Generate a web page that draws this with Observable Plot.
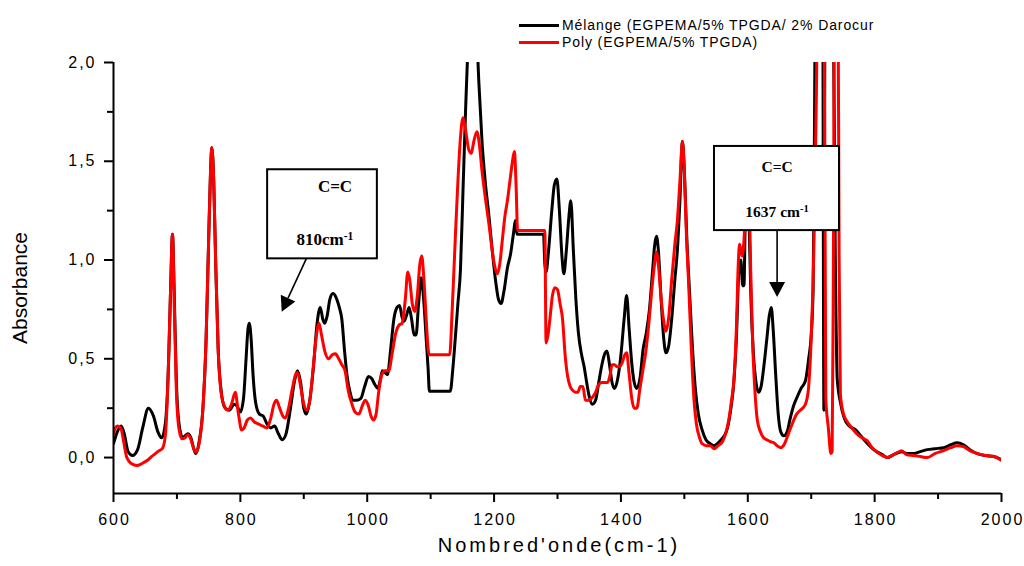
<!DOCTYPE html>
<html>
<head>
<meta charset="utf-8">
<script src="https://cdn.jsdelivr.net/npm/d3@7"></script>
<script src="https://cdn.jsdelivr.net/npm/@observablehq/plot@0.6"></script>
<style>
  html, body { margin: 0; padding: 0; background: #fff; }
  #wrap { position: relative; width: 1024px; height: 566px; font-family: "Liberation Sans", Arial, sans-serif; }
  #legend { position: absolute; left: 519px; top: 17px; font-size: 14px; letter-spacing: 0.9px; color: #000; line-height: 17px; }
  #legend .row { display: flex; align-items: center; height: 17px; }
  #legend .sw { width: 40px; height: 3px; margin-right: 3px; }
</style>
</head>
<body>
<div id="wrap"></div>
<script>
// ---------- data ----------
const seriesNames = ["Mélange (EGPEMA/5% TPGDA/ 2% Darocur", "Poly (EGPEMA/5% TPGDA)"];
const seriesColors = ["#000000", "#ff0000"];

const melangeWn = [600,606,612,617,623,630,638,646,655,663,670,676,682,687,690,693,696,699,703,709,717,722,727,730,735,741,746,750,753,755,758,761,765,770,776,783,790,795,800,805,809,812,814,817,820,824,830,836,842,848,854,860,866,872,879,885,890,895,900,904,909,915,921,926,930,933,937,941,946,951,956,960,964,968,973,978,983,990,996,1002,1007,1012,1017,1021,1024,1028,1032,1037,1042,1047,1051,1055,1058,1062,1066,1070,1074,1077,1081,1085,1089,1093,1096,1098,1131,1135,1139,1143,1147,1151,1155,1159,1166,1172,1176,1181,1186,1192,1198,1203,1207,1211,1216,1221,1226,1230,1234,1236,1278,1280,1282,1286,1291,1295,1299,1303,1307,1310,1314,1318,1321,1325,1329,1333,1338,1342,1346,1350,1355,1360,1365,1370,1375,1378,1382,1386,1390,1395,1400,1405,1409,1413,1417,1421,1425,1430,1435,1440,1445,1450,1453,1456,1459,1463,1467,1471,1475,1480,1485,1489,1493,1497,1500,1504,1508,1512,1517,1522,1528,1534,1541,1547,1552,1558,1563,1568,1573,1578,1582,1586,1589,1592,1594,1596,1599,1602,1605,1609,1613,1617,1621,1626,1630,1634,1637,1640,1644,1648,1652,1657,1662,1667,1672,1677,1684,1691,1696,1700,1703,1705,1707,1718,1720,1722,1734,1738,1741,1746,1752,1760,1770,1778,1786,1795,1803,1812,1820,1830,1843,1850,1862,1872,1883,1895,1909,1920,1930,1940,1950,1962,1975,1988,2000];
const melangeAbs = [0.07,0.13,0.16,0.12,0.03,0.01,0.04,0.15,0.25,0.21,0.13,0.10,0.18,0.5,0.85,1.13,0.8,0.4,0.18,0.1,0.12,0.1,0.04,0.02,0.08,0.25,0.6,1.1,1.45,1.57,1.4,1.0,0.55,0.33,0.25,0.24,0.27,0.26,0.23,0.3,0.5,0.65,0.68,0.6,0.42,0.28,0.22,0.21,0.17,0.15,0.16,0.12,0.09,0.12,0.25,0.38,0.44,0.38,0.25,0.22,0.28,0.45,0.68,0.76,0.70,0.68,0.72,0.80,0.83,0.81,0.76,0.7,0.55,0.42,0.33,0.29,0.29,0.30,0.36,0.41,0.40,0.37,0.35,0.40,0.44,0.43,0.42,0.55,0.70,0.76,0.77,0.71,0.69,0.72,0.76,0.70,0.62,0.62,0.78,0.91,0.80,0.6,0.45,0.336,0.336,0.45,0.61,0.78,0.95,1.35,1.75,2.1,2.4,2.2,1.9,1.6,1.4,1.22,1.02,0.88,0.8,0.78,0.85,0.96,1.03,1.12,1.2,1.13,1.13,0.98,0.94,1.05,1.25,1.38,1.41,1.25,1.02,0.93,1.05,1.22,1.30,1.05,0.80,0.63,0.52,0.46,0.38,0.31,0.27,0.29,0.38,0.47,0.53,0.54,0.47,0.38,0.35,0.40,0.52,0.70,0.82,0.65,0.48,0.38,0.35,0.40,0.55,0.63,0.75,0.95,1.07,1.12,1.05,0.82,0.62,0.53,0.56,0.70,0.90,1.05,1.3,1.60,1.45,1.1,0.85,0.6,0.36,0.22,0.14,0.09,0.07,0.06,0.07,0.09,0.11,0.15,0.24,0.38,0.6,0.95,1.0,0.87,0.87,1.2,1.35,1.2,0.8,0.52,0.38,0.33,0.36,0.48,0.6,0.72,0.76,0.65,0.42,0.22,0.13,0.11,0.13,0.2,0.26,0.3,0.35,0.39,0.5,0.62,0.85,1.6,2.5,2.5,0.24,2.5,2.5,1.0,0.4,0.28,0.2,0.16,0.14,0.11,0.08,0.05,0.03,0.015,0.0,0.015,0.03,0.02,0.02,0.03,0.04,0.045,0.05,0.065,0.075,0.065,0.04,0.02,0.01,0.005,-0.01];

const polyWn = [600,603,606,609,612,616,621,628,637,645,653,660,666,672,677,682,686,690,693,696,699,703,708,713,717,721,726,730,735,741,746,750,753,755,758,761,765,770,775,780,786,792,797,802,806,811,816,822,828,835,842,848,853,857,862,867,871,876,882,887,890,895,900,905,910,915,920,924,928,933,939,945,950,955,960,965,970,976,981,987,992,997,1002,1006,1010,1014,1018,1023,1028,1034,1039,1045,1050,1055,1060,1064,1067,1071,1075,1079,1083,1086,1089,1093,1096,1098,1130,1134,1139,1143,1147,1151,1155,1160,1164,1168,1173,1177,1181,1186,1192,1197,1201,1205,1209,1213,1217,1221,1225,1229,1232,1235,1237,1280,1282,1285,1288,1292,1296,1300,1304,1308,1312,1316,1320,1324,1328,1332,1336,1340,1344,1349,1355,1360,1365,1370,1375,1379,1383,1386,1390,1394,1398,1402,1406,1409,1413,1417,1421,1425,1430,1435,1439,1444,1449,1453,1456,1459,1463,1467,1471,1475,1480,1485,1489,1493,1497,1500,1503,1507,1511,1515,1519,1524,1528,1535,1541,1547,1553,1560,1565,1570,1574,1578,1582,1585,1587,1589,1591,1594,1598,1602,1605,1608,1611,1615,1620,1625,1630,1636,1641,1646,1652,1658,1664,1670,1677,1683,1688,1692,1696,1700,1704,1708,1711,1720,1723,1727,1731,1733,1735,1737,1742,1744,1746,1751,1757,1764,1772,1780,1788,1796,1805,1812,1820,1830,1843,1850,1862,1872,1883,1895,1909,1920,1930,1940,1950,1962,1975,1988,2000];
const polyAbs = [0.12,0.15,0.16,0.155,0.145,0.08,0.0,-0.03,-0.04,-0.03,-0.015,0.005,0.02,0.035,0.045,0.12,0.4,0.85,1.13,0.75,0.35,0.15,0.095,0.1,0.116,0.1,0.05,0.027,0.07,0.25,0.6,1.1,1.45,1.57,1.4,1.0,0.55,0.32,0.26,0.24,0.27,0.33,0.22,0.14,0.15,0.19,0.2,0.18,0.17,0.16,0.15,0.2,0.27,0.29,0.25,0.21,0.2,0.25,0.35,0.42,0.43,0.36,0.27,0.24,0.3,0.46,0.62,0.68,0.62,0.54,0.5,0.52,0.525,0.5,0.47,0.44,0.34,0.27,0.23,0.22,0.26,0.29,0.26,0.21,0.19,0.22,0.33,0.42,0.44,0.44,0.52,0.63,0.67,0.68,0.8,0.94,0.9,0.78,0.74,0.82,0.98,1.02,0.92,0.7,0.55,0.52,0.52,0.75,1.12,1.4,1.62,1.72,1.66,1.56,1.54,1.6,1.65,1.58,1.45,1.32,1.18,1.05,0.97,0.93,0.98,1.1,1.22,1.3,1.4,1.5,1.55,1.35,1.15,1.15,0.58,0.62,0.7,0.82,0.86,0.85,0.78,0.7,0.52,0.41,0.36,0.34,0.33,0.33,0.36,0.36,0.29,0.29,0.305,0.33,0.37,0.38,0.38,0.38,0.42,0.47,0.47,0.46,0.46,0.48,0.52,0.53,0.42,0.3,0.25,0.25,0.35,0.45,0.53,0.68,0.86,0.98,1.04,0.98,0.82,0.7,0.64,0.7,0.9,1.08,1.2,1.4,1.60,1.45,1.15,0.86,0.55,0.3,0.17,0.1,0.07,0.06,0.06,0.045,0.06,0.08,0.12,0.19,0.28,0.39,0.65,0.98,1.08,1.05,1.02,1.1,1.35,1.3,0.9,0.55,0.35,0.19,0.13,0.1,0.09,0.08,0.075,0.06,0.05,0.07,0.12,0.17,0.22,0.24,0.255,0.28,0.36,0.6,1.03,1.8,2.5,2.5,0.3,0.15,0.02,0.03,1.0,2.5,2.5,1.0,0.32,0.22,0.18,0.15,0.12,0.1,0.086,0.05,0.025,0.01,0.0,0.015,0.035,0.015,0.01,0.005,0.0,0.02,0.035,0.05,0.06,0.055,0.035,0.02,0.01,0.005,-0.015];

const xMajorTicks = [600, 800, 1000, 1200, 1400, 1600, 1800, 2000];
const xMinorTicks = [700, 900, 1100, 1300, 1500, 1700, 1900];
const yMajorTicks = [0, 0.5, 1.0, 1.5, 2.0];
const yMinorTicks = [0.25, 0.75, 1.25, 1.75];
const xDomain = [600, 2000];
const yDomain = [-0.182, 2.0];
const xTitle = "Nombred'onde(cm-1)";
const yTitle = "Absorbance";

// annotations (data units)
const annoBoxX1 = [843, 1547.5];
const annoBoxX2 = [1016, 1744.6];
const annoBoxY1 = [1.006, 1.149];
const annoBoxY2 = [1.457, 1.575];
const annoTitleX = [950, 1647];
const annoTitleY = [1.343, 1.442];
const annoTitle = ["C=C", "C=C"];
const annoLabelX = [934, 1647];
const annoLabelY = [1.073, 1.217];
const annoLabel = ["810cm", "1637 cm"];
const annoSup = ["-1", "-1"];
const annoArrowFromX = [905, 1647];
const annoArrowFromY = [1.006, 1.149];
const annoArrowToX = [866, 1647];
const annoArrowToY = [0.736, 0.81];

// ---------- build ----------
const melange = melangeWn.map((w, i) => ({wn: w, a: melangeAbs[i]}));
const poly = polyWn.map((w, i) => ({wn: w, a: polyAbs[i]}));
const boxes = annoBoxX1.map((d, i) => ({x1: d, x2: annoBoxX2[i], y1: annoBoxY1[i], y2: annoBoxY2[i]}));
const annoFont = [17, 15.5];

function annotationText(index, scales) {
  const g = d3.create("svg:g");
  annoTitle.forEach((t, i) => {
    g.append("text")
      .attr("x", scales.x(annoTitleX[i])).attr("y", scales.y(annoTitleY[i]))
      .attr("text-anchor", "middle").attr("font-family", "'Liberation Serif', 'Times New Roman', serif")
      .attr("font-weight", "bold").attr("font-size", annoFont[i]).attr("fill", "#000")
      .text(t);
    const tx = g.append("text")
      .attr("x", scales.x(annoLabelX[i])).attr("y", scales.y(annoLabelY[i]))
      .attr("text-anchor", "middle").attr("font-family", "'Liberation Serif', 'Times New Roman', serif")
      .attr("font-weight", "bold").attr("font-size", annoFont[i]).attr("fill", "#000");
    tx.append("tspan").text(annoLabel[i]);
    tx.append("tspan").attr("dy", "-0.45em").attr("font-size", "0.68em").text(annoSup[i]);
  });
  return g.node();
}

function annotationArrows(index, scales) {
  const g = d3.create("svg:g");
  annoArrowFromX.forEach((_, i) => {
    const x1 = scales.x(annoArrowFromX[i]), y1 = scales.y(annoArrowFromY[i]);
    const x2 = scales.x(annoArrowToX[i]), y2 = scales.y(annoArrowToY[i]);
    const dx = x2 - x1, dy = y2 - y1, len = Math.hypot(dx, dy);
    const ux = dx / len, uy = dy / len;
    const head = 15, half = 8;
    const bx = x2 - ux * head, by = y2 - uy * head;
    g.append("line").attr("x1", x1).attr("y1", y1).attr("x2", bx).attr("y2", by)
      .attr("stroke", "#000").attr("stroke-width", 1.6);
    g.append("path")
      .attr("d", `M${x2},${y2}L${bx - uy * half},${by + ux * half}L${bx + uy * half},${by - ux * half}Z`)
      .attr("fill", "#000");
  });
  return g.node();
}

const plot = Plot.plot({
  width: 1024,
  height: 566,
  marginTop: 62,
  marginRight: 23,
  marginBottom: 73,
  marginLeft: 113,
  style: {fontFamily: "'Liberation Sans', Arial, sans-serif", fontSize: "16px", color: "#000", background: "#fff"},
  x: {domain: xDomain, axis: null},
  y: {domain: yDomain, axis: null},
  marks: [
    Plot.line(melange, {x: "wn", y: "a", stroke: seriesColors[0], strokeWidth: 3, curve: "monotone-x", clip: true}),
    Plot.line(poly, {x: "wn", y: "a", stroke: seriesColors[1], strokeWidth: 3, curve: "monotone-x", clip: true}),
    Plot.rect(boxes, {x1: "x1", x2: "x2", y1: "y1", y2: "y2", fill: "#fff", stroke: "#000", strokeWidth: 2}),
    annotationText,
    annotationArrows,
    Plot.ruleX([xDomain[0]], {stroke: "#000", strokeWidth: 2}),
    Plot.ruleY([yDomain[0]], {stroke: "#000", strokeWidth: 2}),
    Plot.axisX({ticks: xMajorTicks, tickSize: 9, tickPadding: 11, strokeWidth: 2, tickFormat: d => String(d), label: null}),
    Plot.axisX({ticks: xMinorTicks, tickSize: 6, strokeWidth: 2, tickFormat: () => "", label: null}),
    Plot.axisY({ticks: yMajorTicks, tickSize: 9, tickPadding: 10, strokeWidth: 2, tickFormat: d => d.toFixed(1).replace(".", ","), label: null}),
    Plot.axisY({ticks: yMinorTicks, tickSize: 6, strokeWidth: 2, tickFormat: () => "", label: null}),
    Plot.text([xTitle], {frameAnchor: "bottom", dy: 58, fontSize: 20, textAnchor: "middle"}),
    Plot.text([yTitle], {frameAnchor: "left", dx: -93, dy: 10, rotate: -90, fontSize: 21, textAnchor: "middle"})
  ]
});

// letter spacing via per-character dx lists (applied to the innermost text/tspan nodes)
function spaceNode(node, px) {
  const s = node.textContent;
  if (!s) return;
  const list = Array.from(s).map((c, i) => (i === 0 ? 0 : px)).join(" ");
  node.setAttribute("dx", list);
}
plot.querySelectorAll("text").forEach(t => {
  const s = (t.textContent || "").trim();
  let px = 0;
  if (s === xTitle) px = 3;
  else if (/^\d+$/.test(s) || /^\d,\d$/.test(s)) px = 2;
  if (!px) return;
  const spans = t.querySelectorAll("tspan");
  if (spans.length) spans.forEach(sp => spaceNode(sp, px));
  else spaceNode(t, px);
});

const wrap = document.getElementById("wrap");
wrap.appendChild(plot);

const legend = document.createElement("div");
legend.id = "legend";
seriesNames.forEach((name, i) => {
  const row = document.createElement("div");
  row.className = "row";
  const sw = document.createElement("span");
  sw.className = "sw";
  sw.style.background = seriesColors[i];
  const tx = document.createElement("span");
  tx.textContent = name;
  row.appendChild(sw);
  row.appendChild(tx);
  legend.appendChild(row);
});
wrap.appendChild(legend);
</script>
</body>
</html>
